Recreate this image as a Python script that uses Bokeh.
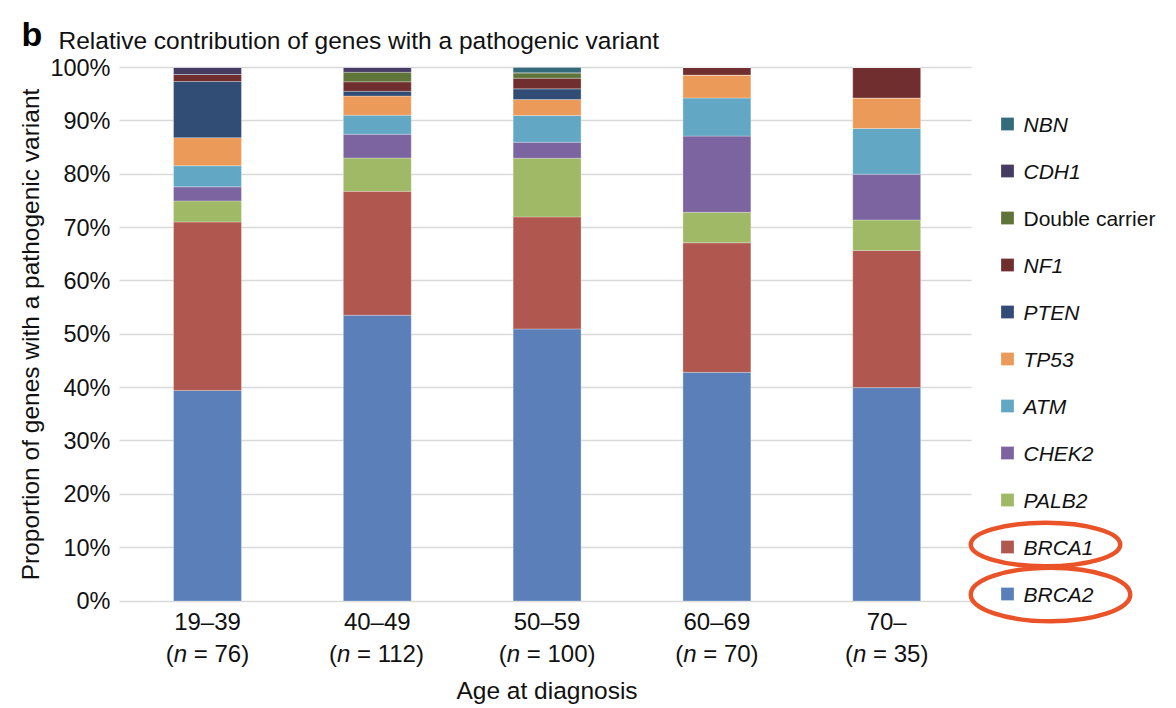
from bokeh.plotting import figure
from bokeh.models import (ColumnDataSource, Range1d, FixedTicker, NumeralTickFormatter,
                          Label, Grid)
from bokeh.core.properties import value, field
from bokeh.embed import file_html
from bokeh.resources import INLINE

# ---------------- data ----------------
ages = ["19–39", "40–49", "50–59", "60–69", "70–"]
n_totals = [76, 112, 100, 70, 35]

# counts of carriers per gene (bottom to top of each bar)
BRCA2 = [30, 60, 51, 30, 14]
BRCA1 = [24, 26, 21, 17, 9]
PALB2 = [3, 7, 11, 4, 2]
CHEK2 = [2, 5, 3, 10, 3]
ATM = [3, 4, 5, 5, 3]
TP53 = [4, 4, 3, 3, 2]
PTEN = [8, 1, 2, 0, 0]
NF1 = [1, 2, 2, 1, 2]
DOUBLE = [0, 2, 1, 0, 0]
CDH1 = [1, 1, 0, 0, 0]
NBN = [0, 0, 1, 0, 0]

genes = ["BRCA2", "BRCA1", "PALB2", "CHEK2", "ATM", "TP53", "PTEN", "NF1",
         "Double carrier", "CDH1", "NBN"]
gene_counts = [BRCA2, BRCA1, PALB2, CHEK2, ATM, TP53, PTEN, NF1, DOUBLE, CDH1, NBN]
colors = ["#5b80b9", "#b0574f", "#9fb967", "#7b64a0", "#62a8c4", "#ec9a59",
          "#314d75", "#702f2e", "#5f7439", "#463b63", "#346b7b"]
italic_flags = [True, True, True, True, True, True, True, True, False, True, True]
highlighted = ["BRCA1", "BRCA2"]

y_ticks = [i / 10 for i in range(11)]

FONT = "Liberation Sans"
TXT = "#111111"

# ---------------- page geometry (px) ----------------
OFF = 0                   # page offset of the canvas
W, H = 1172, 704          # figure size
X0_PAGE = 207.0           # centre of first bar
BAND = 169.8              # px per category
Y0_PAGE = 600.5           # 0 %
Y_PX = 533.5              # px per 100 %


def xd(page_x):
    return (page_x - X0_PAGE) / BAND


def yd(page_y):
    return (Y0_PAGE - page_y) / Y_PX


p = figure(x_range=Range1d(xd(OFF), xd(OFF + W)), y_range=Range1d(yd(OFF + H), yd(OFF)),
           width=W, height=H, min_border=0, toolbar_location=None,
           output_backend="svg", outline_line_color=None,
           background_fill_color="white", border_fill_color="white")

# ---------------- stacked bars ----------------
keys = ["g%d" % i for i in range(len(genes))]
src = {"x": list(range(len(ages)))}
for k, counts in zip(keys, gene_counts):
    src[k] = [c / t for c, t in zip(counts, n_totals)]
source = ColumnDataSource(src)
p.vbar_stack(keys, x="x", width=0.4, color=colors, source=source,
             line_color="white", line_alpha=0.35, line_width=0.8)

# ---------------- axes & grid ----------------
x_lo, x_hi = xd(119), xd(971)

p.xgrid.visible = False
p.ygrid.ticker = FixedTicker(ticks=y_ticks)
p.ygrid.grid_line_color = "#d9d9d9"
p.ygrid.grid_line_width = 1.6
if "cross_bounds" in Grid.properties():
    p.ygrid.cross_bounds = (x_lo, x_hi)
else:
    p.ygrid.visible = False
    p.segment(x0=[x_lo] * len(y_ticks), x1=[x_hi] * len(y_ticks), y0=y_ticks, y1=y_ticks,
              line_color="#d9d9d9", line_width=1.6, level="underlay")

p.yaxis.ticker = FixedTicker(ticks=y_ticks)
p.yaxis.formatter = NumeralTickFormatter(format="0%")
p.yaxis.fixed_location = x_lo
p.yaxis.bounds = (0, 1)
p.xaxis.ticker = FixedTicker(ticks=list(range(len(ages))))
p.xaxis.major_label_overrides = {i: a for i, a in enumerate(ages)}
p.xaxis.fixed_location = 0
p.xaxis.bounds = (-0.5, len(ages) - 0.5)

for ax in (p.xaxis[0], p.yaxis[0]):
    ax.axis_line_color = None
    ax.major_tick_line_color = None
    ax.minor_tick_line_color = None
    ax.major_tick_out = 0
    ax.major_label_text_font = FONT
    ax.major_label_text_font_size = "24px"
    ax.major_label_text_color = TXT
    ax.axis_label_text_font = FONT
    ax.axis_label_text_font_size = "24.5px"
    ax.axis_label_text_font_style = "normal"
    ax.axis_label_text_color = TXT

p.yaxis.major_label_text_font_size = "23.5px"
p.yaxis.major_label_standoff = 9
p.yaxis.axis_label = "Proportion of genes with a pathogenic variant"
p.yaxis.axis_label_standoff = 3

p.xaxis.major_label_standoff = 7
p.xaxis.axis_label = "Age at diagnosis"
p.xaxis.axis_label_standoff = 38

# ---------------- second line of category labels: "(n = 76)", italic n ----------------
FS = 24
CW = {"(": 0.333, ")": 0.333, " ": 0.278, "=": 0.584, "n": 0.556}


def tw(s):
    return sum(CW.get(ch, 0.556) for ch in s) * FS


for i, n in enumerate(n_totals):
    # (text, style, gap after it in px)
    parts = [("(", "normal", 0.0), ("n", "italic", tw(" ")), ("= %d)" % n, "normal", 0.0)]
    off = -sum(tw(s) + g for s, _, g in parts) / 2
    for s, style, gap in parts:
        p.add_layout(Label(x=i, y=yd(653), x_offset=off, text=s,
                           text_font=FONT, text_font_size="%dpx" % FS,
                           text_font_style=style, text_color=TXT,
                           text_align="left", text_baseline="middle"))
        off += tw(s) + gap

# ---------------- panel letter and title ----------------
p.add_layout(Label(x=xd(21), y=yd(33), text="b", text_font=FONT,
                   text_font_size="34px", text_font_style="bold", text_color="#000000",
                   text_align="left", text_baseline="alphabetic"))
p.add_layout(Label(x=xd(58), y=yd(40),
                   text="Relative contribution of genes with a pathogenic variant",
                   text_font=FONT, text_font_size="24.5px", text_color=TXT,
                   text_align="left", text_baseline="alphabetic"))

# ---------------- legend ----------------
ITEM_TOP = 123.5      # page y of the first (top) item
ITEM_STEP = 47.0
order = list(range(len(genes)))[::-1]   # NBN at top ... BRCA2 at bottom
leg = {"x": [], "y": [], "c": [], "tx": [], "t": [], "st": []}
for j, gi in enumerate(order):
    yy = yd(ITEM_TOP + j * ITEM_STEP)
    leg["x"].append(xd(1007))
    leg["y"].append(yy)
    leg["c"].append(colors[gi])
    leg["tx"].append(xd(1023))
    leg["t"].append(genes[gi])
    leg["st"].append("italic" if italic_flags[gi] else "normal")
lsrc = ColumnDataSource(leg)
p.rect(x="x", y="y", width=13 / BAND, height=13 / Y_PX, fill_color="c",
       line_color="white", line_alpha=0.5, line_width=0.5, source=lsrc)
p.text(x="tx", y="y", text="t", text_font=value(FONT), text_font_size=value("21px"),
       text_font_style=field("st"), text_color=TXT, text_baseline="middle",
       text_align="left", source=lsrc)

# highlight ellipses round BRCA1 and BRCA2 legend entries
ex, ey, ew, eh = [], [], [], []
for g, cx, dy, w_px, h_px in zip(highlighted, [1045, 1050], [-2.5, 0.5],
                                  [149.5, 159.5], [43.5, 53.5]):
    j = order.index(genes.index(g))
    ex.append(xd(cx))
    ey.append(yd(ITEM_TOP + j * ITEM_STEP + dy))
    ew.append(w_px / BAND)
    eh.append(h_px / Y_PX)
p.ellipse(x=ex, y=ey, width=ew, height=eh, fill_color=None,
          line_color="#ea5228", line_width=4.5)

open("out.html", "w").write(file_html(p, INLINE))
